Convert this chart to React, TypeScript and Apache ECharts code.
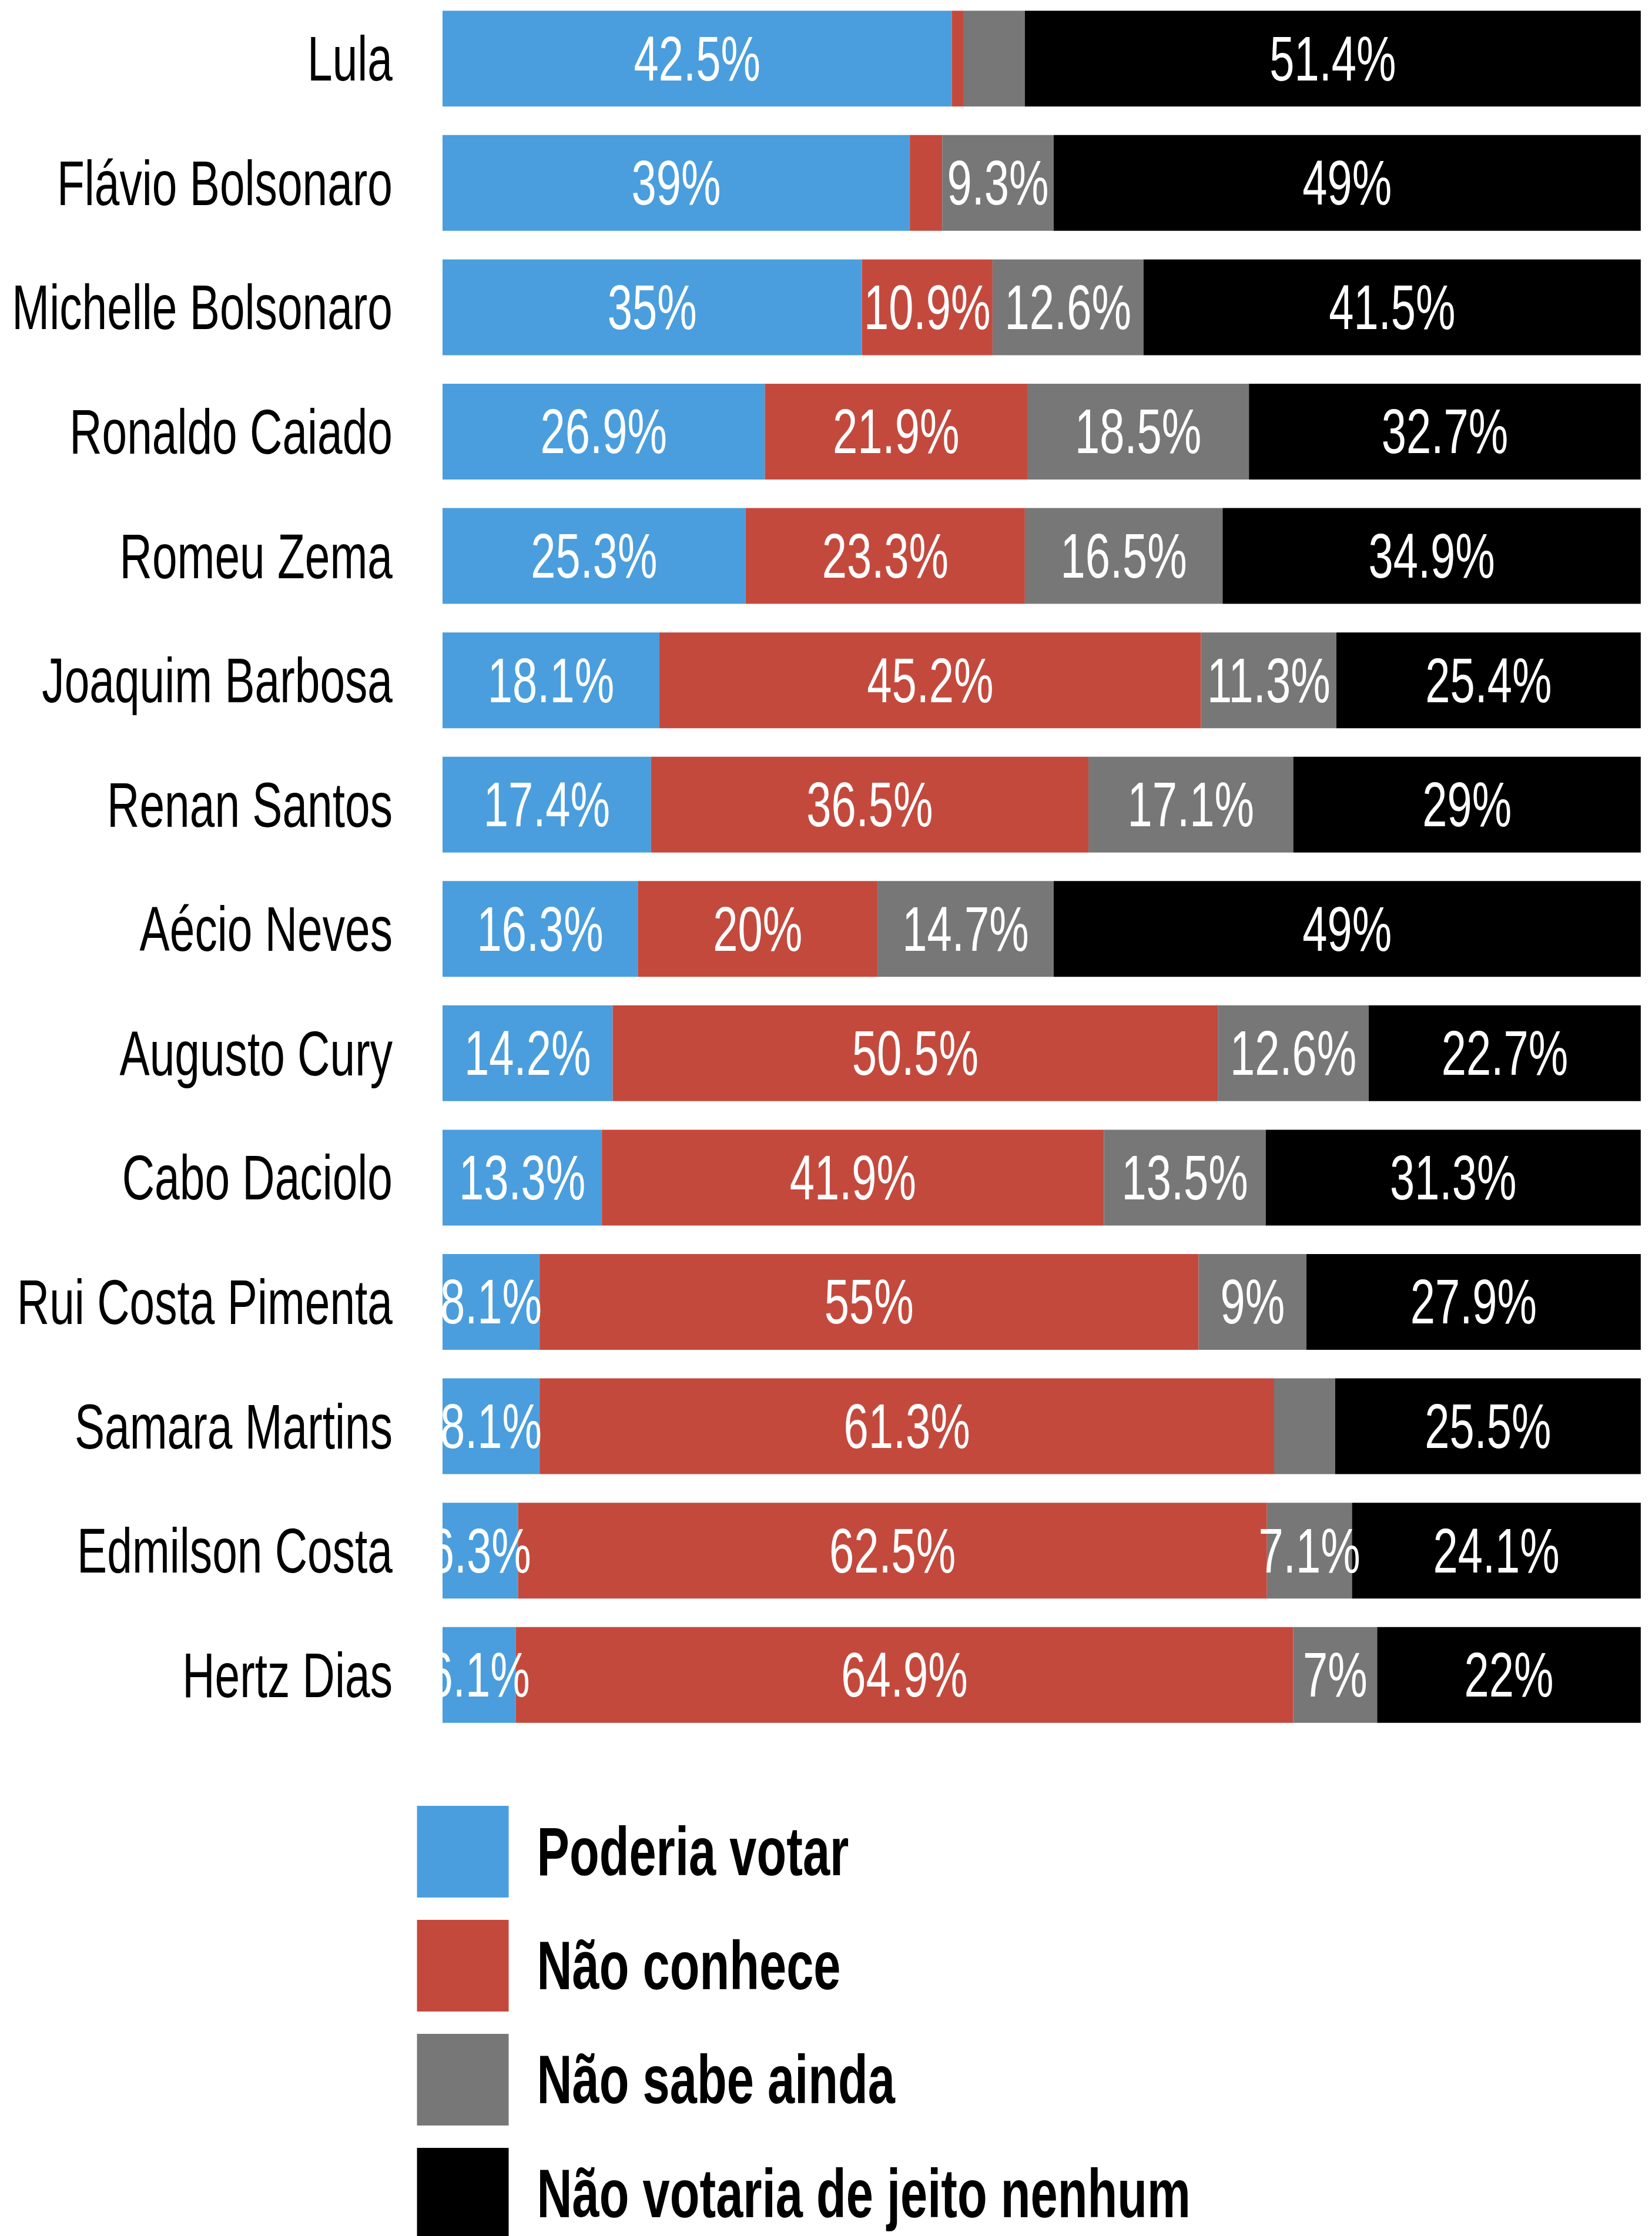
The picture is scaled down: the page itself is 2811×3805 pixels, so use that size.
import React, { useEffect, useRef } from "react";
import * as echarts from "echarts";

const categories = [
  "Lula",
  "Flávio Bolsonaro",
  "Michelle Bolsonaro",
  "Ronaldo Caiado",
  "Romeu Zema",
  "Joaquim Barbosa",
  "Renan Santos",
  "Aécio Neves",
  "Augusto Cury",
  "Cabo Daciolo",
  "Rui Costa Pimenta",
  "Samara Martins",
  "Edmilson Costa",
  "Hertz Dias",
];
const seriesNames = ["Poderia votar", "Não conhece", "Não sabe ainda", "Não votaria de jeito nenhum"];
const poderiaVotar = [42.5, 39, 35, 26.9, 25.3, 18.1, 17.4, 16.3, 14.2, 13.3, 8.1, 8.1, 6.3, 6.1];
const naoConhece = [1.0, 2.7, 10.9, 21.9, 23.3, 45.2, 36.5, 20, 50.5, 41.9, 55, 61.3, 62.5, 64.9];
const naoSabeAinda = [5.1, 9.3, 12.6, 18.5, 16.5, 11.3, 17.1, 14.7, 12.6, 13.5, 9, 5.1, 7.1, 7];
const naoVotaria = [51.4, 49, 41.5, 32.7, 34.9, 25.4, 29, 49, 22.7, 31.3, 27.9, 25.5, 24.1, 22];
const colors = ["#4A9EDD", "#C4493D", "#777777", "#000000"];

const FONT = "'Liberation Sans', Arial, sans-serif";
// the reference uses a very condensed typeface: the whole chart is drawn wider and squeezed horizontally
const SQUEEZE = 0.71;
const PAGE_W = 2811;
const PAGE_H = 3805;
const u = (px: number) => px / SQUEEZE;

export default function App() {
  const ref = useRef<HTMLDivElement>(null);
  useEffect(() => {
    if (!ref.current) return;
    const chart = echarts.init(ref.current, null, { renderer: "svg" });
    const values = [poderiaVotar, naoConhece, naoSabeAinda, naoVotaria];
    chart.setOption({
      animation: false,
      backgroundColor: "#ffffff",
      grid: {
        left: u(753),
        right: u(19),
        top: -6,
        height: 2962,
        containLabel: false,
        outerBoundsMode: "none",
      },
      xAxis: { type: "value", min: 0, max: 100, show: false },
      yAxis: {
        type: "category",
        inverse: true,
        data: categories,
        axisLine: { show: false },
        axisTick: { show: false },
        splitLine: { show: false },
        axisLabel: { fontSize: 108, color: "#000", margin: u(85), fontFamily: FONT },
      },
      legend: {
        data: seriesNames,
        orient: "vertical",
        left: u(706),
        top: 3068,
        height: 1000,
        itemWidth: u(156),
        itemHeight: 156,
        itemGap: 38,
        icon: "rect",
        selectedMode: false,
        textStyle: {
          fontSize: 117,
          fontWeight: "bold",
          color: "#000",
          fontFamily: FONT,
          padding: [0, 0, 0, u(48) - 5],
        },
      },
      series: seriesNames.map((name, i) => ({
        name,
        type: "bar",
        stack: "total",
        barWidth: 163,
        data: values[i],
        itemStyle: { color: colors[i] },
        label: {
          show: true,
          position: "inside",
          color: "#fff",
          fontSize: 107,
          fontFamily: FONT,
          formatter: (p: any) => (p.value >= 6 ? `${p.value}%` : ""),
        },
      })),
    });
    return () => chart.dispose();
  }, []);
  return (
    <div style={{ position: "absolute", left: 0, top: 0, width: PAGE_W, height: PAGE_H, overflow: "hidden", background: "#fff" }}>
      <div
        ref={ref}
        style={{
          position: "absolute",
          left: 0,
          top: 0,
          width: u(PAGE_W),
          height: PAGE_H,
          transform: `scaleX(${SQUEEZE})`,
          transformOrigin: "0 0",
        }}
      />
    </div>
  );
}
